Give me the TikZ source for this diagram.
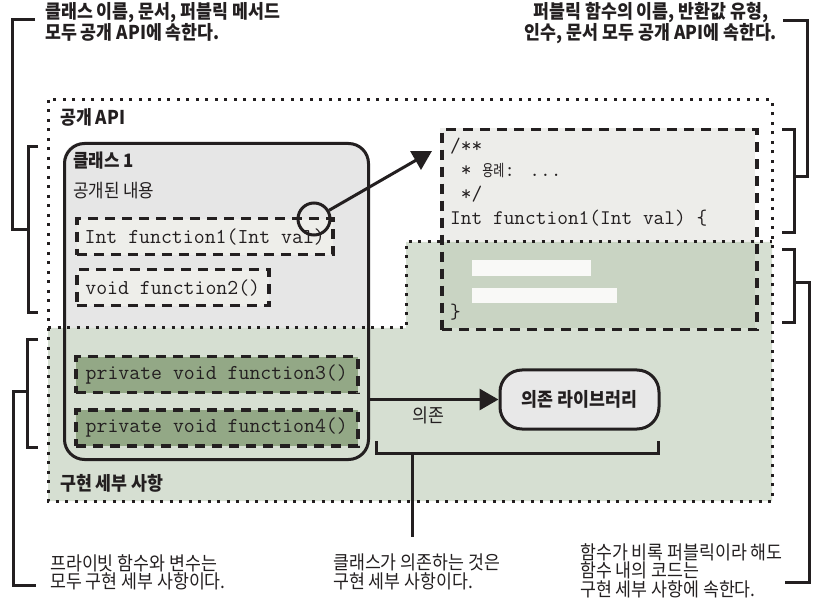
\documentclass[tikz,border=0pt]{standalone}
\usepackage{fontspec}
\setmainfont{Noto Sans CJK KR}[FakeStretch=0.91]
\newfontfamily\krcode{Noto Sans CJK KR}[FakeStretch=0.75]
\usetikzlibrary{arrows.meta}
\definecolor{ink}{HTML}{231F20}
\definecolor{classgray}{HTML}{E6E6E6}
\definecolor{greenbg}{HTML}{D6DFD2}
\definecolor{codetop}{HTML}{EDEDEA}
\definecolor{codebot}{HTML}{C9D4C3}
\definecolor{fnlight}{HTML}{EEEEEA}
\definecolor{fndark}{HTML}{93A886}
\definecolor{barwhite}{HTML}{F9F9F7}
\definecolor{depgray}{HTML}{E8E8E8}
\begin{document}
\begin{tikzpicture}[x=1pt,y=-1pt,
  dotline/.style={draw=ink, line width=3pt, dash pattern=on 3pt off 6.5pt},
  dashbox/.style={draw=ink, line width=3.5pt, dash pattern=on 10pt off 7pt},
  brk/.style={draw=ink, line width=3pt},
  krtext/.style={font=\fontsize{19}{18.5}\selectfont, text=ink, inner sep=0pt},
  krbold/.style={font=\bfseries\fontsize{19}{18.5}\selectfont, text=ink, inner sep=0pt},
  codetxt/.style={font=\ttfamily\fontsize{20.8}{24}\selectfont, text=ink, inner sep=0pt, anchor=west},
  fnbox/.style={dashbox, anchor=north west, font=\ttfamily\fontsize{21.2}{24}\selectfont,
     text=ink, inner sep=0pt, minimum height=36pt},
  arrowline/.style={draw=ink, line width=3pt, -{Triangle[length=19pt,width=21pt]}}
]
\useasboundingbox (0,0) rectangle (817,612);

% ---------- fills ----------
\fill[classgray, rounded corners=20pt] (63,142) rectangle (367,458);
\fill[codetop] (440,128) rectangle (755,242);
\fill[greenbg] (48,328) -- (406,328) -- (406,242) -- (772,242) -- (772,501) -- (48,501) -- cycle;
\fill[codebot] (440,242) rectangle (755,328);
\fill[barwhite] (472,260) rectangle (591,276);
\fill[barwhite] (472,288) rectangle (617,303);

% ---------- dotted regions ----------
\draw[dotline] (48,100) rectangle (772,501);
\draw[dotline] (48,328) -- (406,328) -- (406,242) -- (772,242);

% ---------- region labels ----------
\node[krbold, anchor=west] (apilbl) at (60,117) {공개 API};
\node[krbold, anchor=west] (impllbl) at (60,483) {구현 세부 사항};

% ---------- class box ----------
\node[draw=ink, line width=3pt, rounded corners=20pt, minimum width=304pt,
      minimum height=316pt, anchor=north west] (cls) at (63,142) {};
\node[krbold, font=\bfseries\fontsize{18.5}{19}\selectfont, anchor=west] (clsname) at (73,161) {클래스 1};
\node[krtext, font=\fontsize{18.5}{19}\selectfont, anchor=west] (pubcontent) at (73,191) {공개된 내용};

\node[fnbox, fill=fnlight, minimum width=256pt] (fn1) at (75,217) {Int function1(Int val)};
\node[fnbox, fill=fnlight, minimum width=192pt] (fn2) at (75,268) {void function2()};
\node[fnbox, fill=fndark, minimum width=282pt] (fn3) at (74,355) {private void function3()};
\node[fnbox, fill=fndark, minimum width=282pt] (fn4) at (74,408) {private void function4()};

% ---------- code box ----------
\node[dashbox, minimum width=315pt, minimum height=200pt, anchor=north west] (code) at (440,128) {};
\node[codetxt] (c1) at (450,146) {/**};
\node[codetxt] (c2) at (450,171) {\ * {\krcode\fontsize{16}{20}\selectfont 용례}: ...};
\node[codetxt] (c3) at (450,194) {\ */};
\node[codetxt] (c4) at (450,218) {Int function1(Int val) \{};
\node[codetxt] (c5) at (450,312) {\}};

% ---------- circle and arrow ----------
\node[circle, draw=ink, line width=3pt, minimum size=32pt, inner sep=0pt] (circ) at (314,219) {};
\coordinate (tipend) at (432,151);
\draw[arrowline] (circ) -- (tipend);

% ---------- dependency ----------
\node[draw=ink, fill=depgray, line width=3pt, rounded corners=22pt, minimum width=159pt,
      minimum height=59pt, font=\bfseries\fontsize{19}{20}\selectfont, text=ink] (dep) at (579.5,399.5) {의존 라이브러리};
\draw[arrowline] (cls.east |- dep.west) -- (dep.west);
\node[krtext] (deplbl) at (428,415) {의존};

% ---------- brackets ----------
\draw[brk] (38,147) -- (28,147) -- (28,313) -- (38,313);
\draw[brk] (35,20) -- (12,20) -- (12,230) -- (28,230);
\draw[brk] (38,340) -- (27,340) -- (27,447) -- (38,447);
\draw[brk] (27,392) -- (13,392) -- (13,585) -- (36,585);
\draw[brk] (782,130) -- (794,130) -- (794,233) -- (782,233);
\draw[brk] (794,177) -- (807,177) -- (807,21) -- (783,21);
\draw[brk] (782,250) -- (794,250) -- (794,323) -- (782,323);
\draw[brk] (794,283) -- (809,283) -- (809,582) -- (785,582);
\draw[brk] (376,441) -- (376,453) -- (658,453) -- (658,441);
\draw[brk] (412,453) -- (412,537);

% ---------- annotations ----------
\node[krbold, anchor=north west, align=left] (noteTL) at (45,2) {클래스 이름, 문서, 퍼블릭 메서드\\모두 공개 API에 속한다.};
\node[krbold, anchor=north, align=center] (noteTR) at (651,2) {퍼블릭 함수의 이름, 반환값 유형,\\인수, 문서 모두 공개 API에 속한다.};
\node[krtext, anchor=north west, align=left] (noteBL) at (50,554) {프라이빗 함수와 변수는\\모두 구현 세부 사항이다.};
\node[krtext, anchor=north west, align=left] (noteBC) at (333,554) {클래스가 의존하는 것은\\구현 세부 사항이다.};
\node[krtext, anchor=north west, align=left] (noteBR) at (580,543) {함수가 비록 퍼블릭이라 해도\\함수 내의 코드는\\구현 세부 사항에 속한다.};
\end{tikzpicture}
\end{document}
